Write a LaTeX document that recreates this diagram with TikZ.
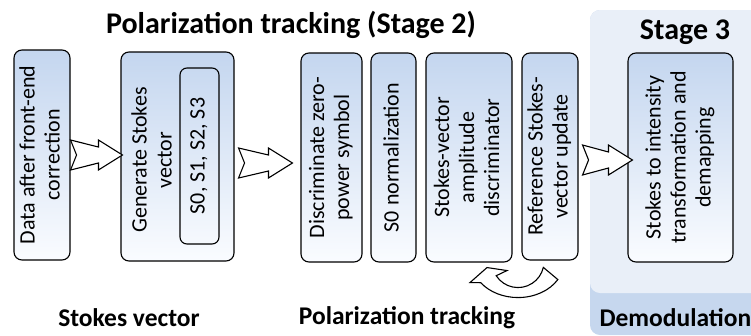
\documentclass[tikz,border=0pt]{standalone}
\usepackage{fontspec}
\setmainfont{Carlito}
\usepackage{graphicx}
\usetikzlibrary{calc}

\definecolor{boxtop}{RGB}{196,214,239}
\definecolor{boxbot}{RGB}{250,252,255}
\definecolor{stagebg}{RGB}{233,239,248}
\definecolor{stageband}{RGB}{198,215,238}

% rotated, centred text for the upright boxes
\newcommand{\vlabel}[1]{\rotatebox{90}{\begin{tabular}{@{}c@{}}#1\end{tabular}}}

\tikzset{
  blk/.style={draw, line width=1.1pt, rounded corners=8pt, inner sep=0pt,
    top color=boxtop, bottom color=boxbot,
    font=\fontsize{22}{25}\selectfont},
  subblk/.style={draw, line width=1.1pt, rounded corners=7pt, inner sep=0pt,
    font=\fontsize{22}{25}\selectfont},
  btitle/.style={font=\bfseries\fontsize{30}{36}\selectfont},
  blabel/.style={font=\bfseries\fontsize{25.5}{30}\selectfont},
  fat arrow/.style={draw, fill=white, line width=1.1pt, line join=miter,
    to path={let \p1=(\tikztostart), \p2=(\tikztotarget) in
      (\x1,\y1+15pt) -- (\x2-24pt,\y1+8pt) -- (\x2-24pt,\y1+15pt) -- (\x2,\y1)
      -- (\x2-24pt,\y1-15pt) -- (\x2-24pt,\y1-8pt) -- (\x1,\y1-15pt)
      -- (\x1+6pt,\y1) -- cycle}},
  loop arrow/.style={draw, fill=white, line width=1.1pt, line join=miter}
}

\begin{document}
\begin{tikzpicture}[x=1pt,y=-1pt]
    \useasboundingbox (0,0) rectangle (751,335);

    % Stage 3 panel
    \fill[stageband, rounded corners=10pt] (590,10) rectangle (800,335);
    \fill[stagebg, rounded corners=10pt] (590,10) rectangle (800,293);

    % Titles
    \node[btitle] (title2) at (291,25) {Polarization tracking (Stage 2)};
    \node[btitle] (title3) at (685,32) {Stage 3};

    % Stage 1 blocks
    \node[blk, minimum width=56pt, minimum height=210pt] (data) at (42,155)
        {\vlabel{Data after front-end\\correction}};
    \node[blk, minimum width=113pt, minimum height=209pt] (genstokes) at (177.5,156.5) {};
    \node[font=\fontsize{22}{25}\selectfont] (gentext) at (154,160)
        {\vlabel{Generate Stokes\\vector}};
    \node[subblk, minimum width=39pt, minimum height=176pt] (svec) at (199.5,156)
        {\vlabel{S0, S1, S2, S3}};

    % Stage 2 blocks
    \node[blk, minimum width=61pt, minimum height=209pt] (zeropow) at (331.5,157.5)
        {\vlabel{Discriminate zero-\\power symbol}};
    \node[blk, minimum width=45pt, minimum height=209pt] (snorm) at (393.5,157.5)
        {\vlabel{S0 normalization}};
    \node[blk, minimum width=86pt, minimum height=209pt] (ampdisc) at (469,157.5)
        {\vlabel{Stokes-vector\\amplitude\\discriminator}};
    \node[blk, minimum width=56pt, minimum height=207pt] (refupd) at (550,156.5)
        {\vlabel{Reference Stokes-\\vector update}};

    % Stage 3 block
    \node[blk, minimum width=105pt, minimum height=209pt] (demap) at (680.5,157.5)
        {\vlabel{Stokes to intensity\\transformation and\\demapping}};

    % Block arrows
    \draw[fat arrow] (data.east) to ($(genstokes.west)+(2,0)$);
    \draw[fat arrow] ($(genstokes.east)+(4,6.5)$) to ($(zeropow.west)+(-8,0)$);
    \draw[fat arrow] ($(refupd.east)+(4,3.5)$) to ($(demap.west)+(5,0)$);

    % Feedback loop under the tracking blocks
    \coordinate (loop) at ($(ampdisc.south east)!0.5!(refupd.south west)+(1,0)$);
    \draw[loop arrow] ($(loop)+(30:46 and 36)$)
        arc[start angle=30, end angle=144, x radius=46, y radius=36]
        -- ($(loop)+(-48,21)$) -- ($(loop)+(-31,6)$) -- ($(loop)+(-11,9)$)
        -- ($(loop)+(147:26)$)
        arc[start angle=147, end angle=13, radius=26]
        -- cycle;

    % Stage labels
    \node[blabel] (lab1) at (129,318) {Stokes vector};
    \node[blabel] (lab2) at (407,318) {Polarization tracking};
    \node[blabel, anchor=west] (lab3) at (596,318) {Demodulation};
\end{tikzpicture}
\end{document}
